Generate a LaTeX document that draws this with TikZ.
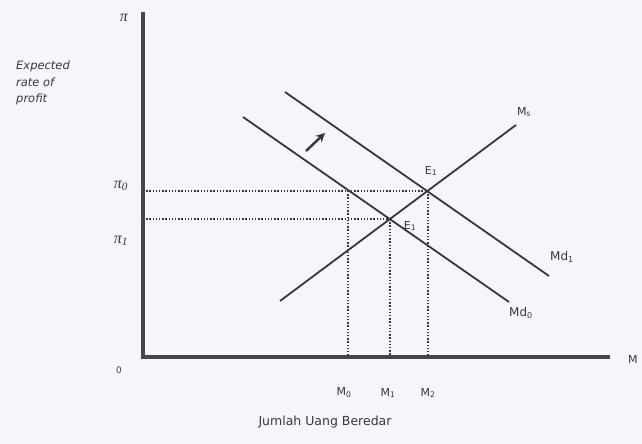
\documentclass[tikz,border=0pt]{standalone}
\usepackage{fontspec}
\setmainfont{DejaVu Sans}
\newfontfamily\grkfont{Liberation Serif}
\usetikzlibrary{arrows.meta}
\definecolor{bg}{RGB}{244,246,250}
\definecolor{ink}{RGB}{55,55,60}
\definecolor{axisc}{RGB}{70,70,78}
\begin{document}
\begin{tikzpicture}[x=1pt,y=-1pt,
  axisline/.style={line width=3.2pt,draw=axisc},
  curve/.style={line width=1.8pt,draw=ink},
  guide/.style={line width=1.4pt,draw=ink,dash pattern=on 1.4pt off 1.8pt},
  lbl/.style={font=\fontsize{11}{13}\selectfont,text=ink,inner sep=1pt},
  greek/.style={font=\grkfont\fontsize{16}{18}\selectfont\itshape,text=ink,inner sep=1pt}]
\fill[bg] (0,0) rectangle (642,444);
\useasboundingbox (0,0) rectangle (642,444);
% axes
\coordinate (O) at (143,357);
\coordinate (Ytop) at (143,12);
\coordinate (Xend) at (610,357);
\draw[axisline] (Ytop) -- (O) -- (Xend);
% curves
\coordinate (ms1) at (280,301);
\coordinate (ms2) at (516,125);
\coordinate (md0a) at (243,117);
\coordinate (md0b) at (509,302);
\coordinate (md1a) at (285,92);
\coordinate (md1b) at (549,276);
\draw[curve] (ms1) -- (ms2);
\draw[curve] (md0a) -- (md0b);
\draw[curve] (md1a) -- (md1b);
% equilibria and guides
\coordinate (E2) at (428,191);
\coordinate (E1) at (390,219);
\coordinate (P0) at (348,191);
\coordinate (Y0) at (143,191);
\coordinate (Y1) at (143,219);
\coordinate (X0) at (348,357);
\coordinate (X1) at (390,357);
\coordinate (X2) at (428,357);
\draw[guide] (Y0) -- (E2);
\draw[guide] (Y1) -- (E1);
\draw[guide] (P0) -- (X0);
\draw[guide] (E1) -- (X1);
\draw[guide] (E2) -- (X2);
% shift arrow
\coordinate (ar1) at (306,151);
\coordinate (ar2) at (325,133);
\draw[line width=2.4pt,draw=ink,-{Stealth[length=9pt,width=9pt]}] (ar1) -- (ar2);
% labels
\node[greek] (pi) at (124,18) {π};
\node[lbl,font=\fontsize{11.5}{16.5}\selectfont\itshape,align=left,anchor=north west] (ylab) at (15,60) {Expected\\rate of\\profit};
\node[greek] (pi0) at (121,186) {π\textsubscript{0}};
\node[greek] (pi1) at (121,241) {π\textsubscript{1}};
\node[lbl,font=\fontsize{9}{11}\selectfont] (zero) at (119,370) {0};
\node[lbl] (msl) at (524,112) {M\textsubscript{s}};
\node[lbl] (e2l) at (431,171) {E\textsubscript{1}};
\node[lbl] (e1l) at (410,226) {E\textsubscript{1}};
\node[lbl,font=\fontsize{12}{14}\selectfont] (md1l) at (562,257) {Md\textsubscript{1}};
\node[lbl,font=\fontsize{12}{14}\selectfont] (md0l) at (521,313) {Md\textsubscript{0}};
\node[lbl,anchor=west] (ml) at (627,359) {M};
\node[lbl] (m0l) at (344,393) {M\textsubscript{0}};
\node[lbl] (m1l) at (388,393) {M\textsubscript{1}};
\node[lbl] (m2l) at (428,393) {M\textsubscript{2}};
\node[lbl,font=\fontsize{12.5}{15}\selectfont] (xlab) at (325,422) {Jumlah Uang Beredar};
\end{tikzpicture}
\end{document}
